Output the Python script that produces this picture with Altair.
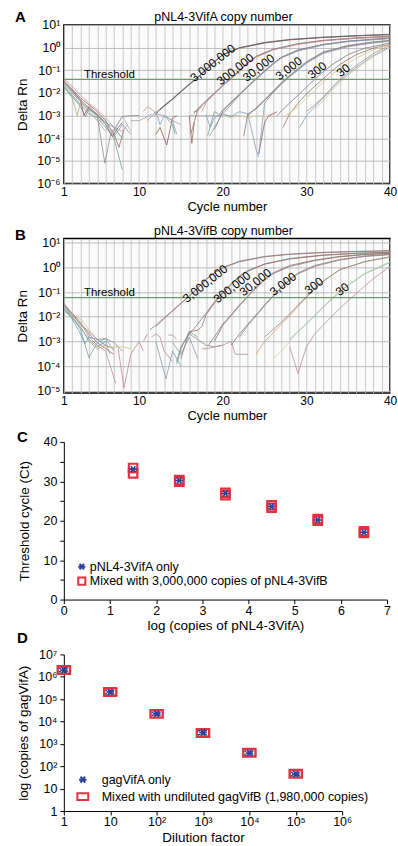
import altair as alt
import pandas as pd

FONT = "Liberation Sans"

# ---------------- Panel A: pNL4-3VifA amplification curves ----------------
A_curves = [
    # baseline (early cycles)
    ("#a36b5e", [(1, 0.035), (2, 0.015), (3, 6e-3), (4, 3e-3), (5, 1.5e-3), (6, 6e-4), (7, 1.5e-4), (7.6, 4e-5), (8.2, 2.5e-4)]),
    ("#8c8c8c", [(1, 0.03), (2, 0.012), (3, 5e-3), (4, 2.2e-3), (5, 1.0e-3), (5.9, 8e-6), (6.6, 1.5e-4), (7, 2.5e-4), (8, 9e-4), (9, 1e-3), (10, 1e-3)]),
    ("#7f9fbf", [(1, 0.025), (2, 0.01), (3, 4e-3), (4, 2e-3), (5, 1.2e-3), (6, 5e-4), (7, 1.2e-4), (8, 4e-4), (9, 1.5e-4)]),
    ("#6fa58f", [(1, 0.02), (2, 8e-3), (3, 3e-3), (4, 1.2e-3), (5, 8e-4), (6, 3e-4), (7, 1e-4), (8, 4e-6)]),
    ("#c89a9a", [(1, 0.042), (2, 0.02), (3, 8e-3), (4, 3.5e-3), (5, 1.8e-3), (6, 8e-4), (7, 3e-4), (8, 2e-4), (8.6, 4e-4)]),
    ("#b8a27a", [(1, 0.022), (2, 6e-3), (2.6, 1e-3), (3, 4e-3), (4, 1.5e-3), (5, 6e-4), (6, 2e-4)]),
    ("#5f9f9f", [(1, 0.018), (2, 7e-3), (3, 2.5e-3), (3.6, 9e-4), (4, 2e-3), (5, 1e-3), (6, 5e-4), (7, 3e-4), (8, 1e-4)]),
    ("#9a5a5a", [(1, 0.03), (2, 0.013), (3, 5e-3), (3.4, 1e-3), (4, 2.5e-3), (5, 1.1e-3), (6, 4e-4), (6.8, 1.2e-4), (7.5, 3e-4), (8, 5e-4)]),
    ("#b0b0b0", [(1, 0.028), (2, 0.011), (3, 4.5e-3), (4, 1.8e-3), (5, 9e-4), (6, 4e-4), (7, 2e-4), (8, 1e-3), (9, 2e-4)]),
    # noise (middle cycles)
    ("#a0a0a0", [(9, 6e-4), (10, 6e-4), (11, 9e-4), (11.5, 1.2e-3)]),
    ("#c89a9a", [(10.5, 1.5e-3), (11, 2.5e-3), (11.6, 1.8e-3), (12, 1.2e-3), (13, 1e-3), (14, 6e-4), (15, 4e-4)]),
    ("#7f9fbf", [(11, 6e-4), (12, 1.5e-3), (12.5, 4e-4), (13, 1e-3), (14, 6e-4), (14.5, 1.5e-4)]),
    ("#9a5a5a", [(12, 1.5e-4), (12.5, 3e-4), (13.3, 5e-5), (14, 8e-4), (14.5, 1e-3)]),
    ("#6fa58f", [(13, 1e-3), (14, 4e-4), (14.3, 1.5e-4)]),
    ("#a36b5e", [(16, 1e-3), (16.3, 6e-5), (16.6, 5e-4)]),
    ("#c89a9a", [(16.5, 1.5e-3), (17, 1.6e-3), (17.5, 2.5e-3)]),
    ("#b0b0b0", [(16, 1e-3), (17, 1e-3), (18, 1e-3), (19, 1e-3), (20, 1e-3), (21, 1e-3), (22, 1e-3)]),
    ("#7f9fbf", [(18, 1.1e-3), (18.5, 3e-4), (19, 8e-4), (20, 1.2e-3), (21, 9e-4), (22, 1.5e-3), (23, 1.2e-3), (24, 3e-5), (24.3, 1.5e-5)]),
    ("#d3d39a", [(20, 1e-3), (21, 8e-4), (22, 1e-3), (23, 8e-4), (24, 1e-3), (25, 9e-4), (26, 1e-3)]),
    ("#6fa58f", [(18.2, 1.3e-4), (19, 1.5e-3), (19.5, 1.2e-3)]),
    ("#9a5a5a", [(24.3, 2e-5), (25, 5e-4), (25.5, 1e-3), (26, 1.2e-3), (26.5, 1.5e-3)]),
    # 3,000,000
    ("#7f7f7f", [(12, 1.4e-3), (13, 2.8e-3), (14, 5.6e-3), (15, 0.012), (16, 0.025), (17, 0.05), (18, 0.11), (19, 0.25), (20, 0.5), (22, 1.0), (25, 1.7), (28, 2.3), (32, 2.9), (36, 3.4), (40, 3.8)]),
    ("#a07070", [(11.8, 1.0e-3), (13, 2.6e-3), (14, 5.2e-3), (15, 0.011), (16, 0.023), (17, 0.047), (18, 0.1), (19, 0.23), (20, 0.47), (22, 0.95), (25, 1.6), (28, 2.2), (32, 2.8), (36, 3.3), (40, 3.7)]),
    ("#5f5f5f", [(12.5, 1.8e-3), (13, 2.7e-3), (14, 5.5e-3), (15, 0.0115), (16, 0.024), (17, 0.049), (18, 0.105), (19, 0.24), (20, 0.49), (22, 0.98), (25, 1.65), (28, 2.25), (32, 2.85), (36, 3.35), (40, 3.9)]),
    # 300,000
    ("#7f7f7f", [(16.5, 1.2e-3), (17, 2.0e-3), (18, 4.5e-3), (19, 0.01), (20, 0.022), (21, 0.045), (22, 0.1), (23, 0.22), (24, 0.42), (26, 0.85), (29, 1.5), (32, 2.1), (36, 2.7), (40, 3.2)]),
    ("#a07070", [(16.2, 1.6e-4), (17, 1.8e-3), (18, 4.2e-3), (19, 0.0095), (20, 0.021), (21, 0.043), (22, 0.095), (23, 0.21), (24, 0.4), (26, 0.82), (29, 1.45), (32, 2.05), (36, 2.65), (40, 3.1)]),
    ("#c09090", [(17.5, 1.5e-3), (18, 3.8e-3), (19, 0.009), (20, 0.02), (21, 0.042), (22, 0.09), (23, 0.2), (24, 0.38), (26, 0.8), (29, 1.4), (32, 2.0), (36, 2.6), (40, 3.0)]),
    # 30,000
    ("#7f7f7f", [(19.5, 1.0e-3), (20, 1.8e-3), (21, 4.0e-3), (22, 0.009), (23, 0.02), (24, 0.045), (25, 0.095), (26, 0.2), (27, 0.38), (29, 0.8), (32, 1.4), (35, 1.95), (40, 2.7)]),
    ("#a07070", [(19, 2.5e-4), (20, 1.5e-3), (21, 3.6e-3), (22, 0.0085), (23, 0.019), (24, 0.042), (25, 0.09), (26, 0.19), (27, 0.36), (29, 0.75), (32, 1.35), (35, 1.9), (40, 2.6)]),
    ("#7fa0c0", [(18.4, 1.2e-4), (19, 3e-4), (20, 1.2e-3), (21, 3.0e-3), (22, 0.008), (23, 0.018), (24, 0.04), (25, 0.085), (26, 0.18), (27, 0.35), (29, 0.72), (32, 1.3), (35, 1.85), (40, 2.5)]),
    # 3,000
    ("#7f7f7f", [(23, 1.0e-3), (24, 2.2e-3), (25, 5e-3), (26, 0.012), (27, 0.028), (28, 0.06), (29, 0.12), (30, 0.24), (32, 0.65), (35, 1.25), (38, 1.8), (40, 2.1)]),
    ("#a07070", [(22.5, 1.2e-4), (23, 1.2e-3), (24, 2.0e-3), (25, 4.6e-3), (26, 0.011), (27, 0.026), (28, 0.056), (29, 0.11), (30, 0.22), (32, 0.6), (35, 1.2), (38, 1.7), (40, 2.0)]),
    ("#7fa0c0", [(24.3, 2e-5), (25, 3.5e-3), (26, 0.01), (27, 0.024), (28, 0.052), (29, 0.1), (30, 0.2), (32, 0.55), (35, 1.1), (38, 1.6), (40, 1.9)]),
    # 300
    ("#7f7f7f", [(26.5, 1.0e-3), (27, 1.6e-3), (28, 3.6e-3), (29, 0.008), (30, 0.018), (31, 0.04), (32, 0.085), (33, 0.17), (35, 0.5), (37, 0.95), (40, 1.6)]),
    ("#a07070", [(27.2, 3e-4), (28, 1.2e-3), (29, 3.5e-3), (30, 0.009), (31, 0.02), (32, 0.042), (33, 0.09), (34, 0.18), (36, 0.5), (38, 0.95), (40, 1.4)]),
    ("#d0d090", [(27.5, 1.0e-3), (29, 2.5e-3), (30, 6e-3), (31, 0.013), (32, 0.03), (33, 0.06), (34, 0.12), (36, 0.35), (38, 0.8), (40, 1.3)]),
    # 30
    ("#7fa0c0", [(29.2, 3e-4), (30, 1.0e-3), (31, 2.5e-3), (32, 6e-3), (33, 0.015), (34, 0.035), (35, 0.07), (36, 0.14), (38, 0.45), (40, 1.1)]),
    ("#c09090", [(30, 1.5e-3), (31, 3.0e-3), (32, 6.5e-3), (33, 0.016), (34, 0.04), (35, 0.085), (36, 0.17), (38, 0.55), (40, 1.3)]),
    ("#c8d090", [(31, 2.0e-3), (32, 4.5e-3), (33, 0.012), (34, 0.028), (35, 0.06), (36, 0.12), (38, 0.4), (40, 1.0)]),
]
A_threshold = 0.04
A_labels = [("Threshold", 3.4, 0.062, 0), ("3,000,000", 18.8, 0.21, 322), ("300,000", 21.5, 0.11, 322),
            ("30,000", 24.3, 0.13, 322), ("3,000", 27.9, 0.12, 322), ("300", 31.3, 0.10, 322), ("30", 34.4, 0.10, 322)]

# ---------------- Panel B: pNL4-3VifB amplification curves ----------------
B_curves = [
    ("#a36b5e", [(1, 0.03), (2, 0.012), (3, 5e-3), (4, 2e-3), (5, 9e-4), (6, 5e-4), (7, 3e-4)]),
    ("#7f9fbf", [(1, 0.028), (2, 0.01), (3, 3e-3), (4, 2.2e-4), (5, 9e-4), (6, 1.3e-3), (7, 4e-4)]),
    ("#d3c08a", [(1, 0.016), (2, 0.012), (3, 8e-3), (4, 3e-3), (5, 1.2e-3), (6, 6e-4), (7, 6e-4), (8, 6e-4), (9, 5e-4)]),
    ("#c08a9a", [(1, 0.035), (2, 0.014), (3, 6e-3), (4, 1.5e-3), (5, 7e-4), (6, 4e-4), (7.2, 2e-5)]),
    ("#8c8c8c", [(1, 0.032), (2, 0.013), (3, 5e-3), (4, 2.5e-3), (5, 1.2e-3), (6, 1.3e-3), (7, 9e-4), (8, 4e-4)]),
    ("#6fa58f", [(1, 0.022), (2, 9e-3), (3, 3.5e-3), (4, 1.2e-3), (5, 6e-4), (6, 1e-3), (6.5, 3e-4)]),
    ("#b8a27a", [(1, 0.025), (2, 0.01), (3, 4e-3), (4, 1e-3), (5, 5e-4), (6, 7e-4), (7, 5e-4)]),
    ("#5f9fbf", [(1, 0.02), (2, 8e-3), (3, 2e-3), (3.5, 8e-4), (4, 1.5e-3), (5, 1.2e-3), (6, 7e-4)]),
    ("#c08a9a", [(7.5, 5e-4), (8.2, 1.3e-5), (9, 3e-4), (10, 1e-3), (10.5, 4e-4)]),
    ("#c08a9a", [(10.5, 1e-3), (11, 2e-3)]),
    ("#c08a9a", [(11.5, 1.5e-3), (12, 2e-3), (12.5, 1.5e-3), (13, 4e-4), (14, 1.5e-4)]),
    ("#7f9fbf", [(12, 1e-3), (13.2, 3e-5), (14, 4e-4), (15, 1e-4)]),
    ("#7f9fbf", [(14, 9e-4), (15, 3e-4), (16, 1.5e-3), (17, 2e-4)]),
    ("#c08a9a", [(13.5, 1.8e-3), (14, 1.8e-3), (14.5, 1.2e-3)]),
    ("#8c8c8c", [(16, 2e-3), (17, 1.2e-3), (18, 7e-4), (19, 6e-4), (20, 7e-4)]),
    ("#c08a9a", [(17.5, 5e-4), (18, 5e-4), (19, 6e-4), (20, 7e-4), (21, 1e-3), (21.5, 3e-4), (22, 3e-4), (23, 3e-4)]),
    ("#6fa58f", [(14.5, 1.2e-4), (15, 5e-4), (16, 2.5e-3), (17, 1.5e-3)]),
    # 3,000,000
    ("#8a8a8a", [(11.3, 3e-3), (12, 4.5e-3), (13, 9e-3), (14, 0.018), (15, 0.036), (16, 0.07), (17, 0.15), (18, 0.33), (19, 0.62), (20, 1.0), (22, 1.8), (25, 2.8), (28, 3.5), (32, 4.1), (36, 4.5), (40, 4.8)]),
    ("#a07070", [(12, 4e-3), (13, 8.5e-3), (14, 0.017), (15, 0.034), (16, 0.068), (17, 0.145), (18, 0.32), (19, 0.6), (20, 0.95), (22, 1.7), (25, 2.7), (28, 3.4), (32, 4.0), (36, 4.4), (40, 4.7)]),
    # 300,000
    ("#7f7f7f", [(14.5, 1.5e-4), (15, 6e-4), (16, 2e-3), (17, 5e-3), (18, 0.014), (19, 0.04), (20, 0.1), (21, 0.22), (22, 0.45), (23, 0.75), (25, 1.4), (28, 2.3), (32, 3.2), (36, 3.8), (40, 4.2)]),
    ("#a07070", [(15, 2e-4), (16, 2.5e-3), (17, 2.8e-3), (17.5, 4e-3), (18, 0.012), (19, 0.035), (20, 0.09), (21, 0.2), (22, 0.42), (23, 0.7), (25, 1.35), (28, 2.2), (32, 3.1), (36, 3.7), (40, 4.1)]),
    # 30,000
    ("#7f7f7f", [(18.3, 7e-4), (19, 1.5e-3), (20, 5e-3), (21, 0.012), (22, 0.03), (23, 0.07), (24, 0.16), (25, 0.33), (26, 0.6), (28, 1.2), (31, 2.0), (34, 2.8), (37, 3.4), (40, 3.8)]),
    ("#a07070", [(19, 1e-3), (20, 4.5e-3), (21, 0.011), (22, 0.028), (23, 0.065), (24, 0.15), (25, 0.3), (26, 0.55), (28, 1.1), (31, 1.9), (34, 2.7), (37, 3.3), (40, 3.7)]),
    # 3,000
    ("#7f7f7f", [(21, 7e-4), (22, 2e-3), (23, 5e-3), (24, 0.012), (25, 0.03), (26, 0.07), (27, 0.16), (28, 0.33), (29, 0.6), (31, 1.2), (34, 2.1), (37, 2.9), (40, 3.4)]),
    ("#a08080", [(22, 1.5e-3), (23, 4.5e-3), (24, 0.011), (25, 0.028), (26, 0.065), (27, 0.15), (28, 0.3), (29, 0.55), (31, 1.1), (34, 2.0), (37, 2.8), (40, 3.3)]),
    # 300
    ("#d0a070", [(24, 3e-4), (25, 1e-3), (26, 2.2e-3), (27, 5e-3), (28, 0.011), (29, 0.026), (30, 0.06), (31, 0.13), (32, 0.27), (34, 0.8), (37, 1.7), (40, 2.6)]),
    ("#8a8a8a", [(25, 1.5e-3), (26, 3e-3), (27, 6e-3), (28, 0.013), (29, 0.03), (30, 0.065), (31, 0.14), (32, 0.28), (34, 0.82), (37, 1.75), (40, 2.7)]),
    # 30
    ("#7fb0d0", [(28, 1.2e-3), (29, 2.5e-3), (30, 5e-3), (31, 0.011), (32, 0.024), (33, 0.05), (34, 0.1), (35, 0.19), (37, 0.55), (40, 1.6)]),
    ("#c8d890", [(26, 2e-4), (27, 4e-4), (28, 1e-3), (29, 2.5e-3), (30, 5.5e-3), (31, 0.012), (32, 0.026), (33, 0.055), (34, 0.11), (35, 0.2), (37, 0.6), (40, 1.7)]),
    ("#c08aa0", [(28, 6e-4), (29, 5e-5), (30, 6e-4), (31, 2e-3), (32, 4.5e-3), (33, 0.01), (34, 0.022), (35, 0.045), (36, 0.09), (38, 0.35), (40, 1.1)]),
]
B_threshold = 0.06
B_labels = [("Threshold", 3.4, 0.092, 0), ("3,000,000", 17.9, 0.22, 322), ("300,000", 21.1, 0.155, 322),
            ("30,000", 23.9, 0.25, 322), ("3,000", 27.2, 0.21, 322), ("300", 30.9, 0.18, 322), ("30", 34.3, 0.13, 322)]

# ---------------- Panel C ----------------
C_logcopies = [1.5, 2.5, 3.5, 4.5, 5.5, 6.5]
C_ct_only = [33.1, 30.2, 26.9, 23.6, 20.2, 17.1]
C_ct_only_sd = [0.2, 0.15, 0.2, 0.15, 0.15, 0.15]
C_ct_mixed = [32.7, 30.1, 26.8, 23.6, 20.2, 17.1]
C_ct_mixed_sd = [0.7, 0.2, 0.3, 0.3, 0.2, 0.2]
C_legend = ["pNL4-3VifA only", "Mixed with 3,000,000 copies of pNL4-3VifB"]

# ---------------- Panel D ----------------
D_dilution = [1, 10, 100, 1000, 10000, 100000]
D_only = [2.0e6, 2.1e5, 2.2e4, 3.2e3, 390, 45]
D_only_lo = [1.7e6, 1.75e5, 1.9e4, 2.6e3, 320, 38]
D_only_hi = [2.4e6, 2.5e5, 2.6e4, 3.9e3, 470, 53]
D_mixed = [2.0e6, 2.1e5, 2.2e4, 3.1e3, 400, 46]
D_legend = ["gagVifA only", "Mixed with undiluted gagVifB (1,980,000 copies)"]

BLUE = "#2e3f9c"
RED = "#e2323f"
AST = "M-1,0L1,0M-0.6,-0.8L0.6,0.8M-0.6,0.8L0.6,-0.8"
RECT = "M-1,-0.62L1,-0.62L1,0.62L-1,0.62Z"
HBAR = "M-1,0L1,0"
SUP = "['\u207b\u2076','\u207b\u2075','\u207b\u2074','\u207b\u00b3','\u207b\u00b2','\u207b\u00b9','\u2070','\u00b9','\u00b2','\u00b3','\u2074','\u2075','\u2076','\u2077']"
SUP_EXPR = "'10' + " + SUP + "[round(log(datum.value)/LN10) + 6]"
LOG_LABEL = "datum.value == 1 ? '1' : (datum.value == 10 ? '10' : " + SUP_EXPR + ")"


def one():
    return pd.DataFrame({"k": [0]})


def text_mark(txt, dx, dy, size=15, weight="bold", align="left"):
    return alt.Chart(one()).mark_text(font=FONT, fontSize=size, fontWeight=weight, align=align,
                                      baseline="middle", color="black").encode(
        x=alt.value(dx), y=alt.value(dy), text=alt.value(txt))


def amp_panel(curves, thr, labels, ydom, yvals, title, title_dy, letter, letter_dy, h, lab_pad):
    rows = []
    for i, (col, pts) in enumerate(curves):
        for c, v in pts:
            rows.append({"seg": i, "color": col, "cycle": c, "value": v})
    df = pd.DataFrame(rows)
    xs = alt.Scale(domain=[1, 40], nice=False, zero=False)
    ys = alt.Scale(type="log", domain=ydom, nice=False)
    xaxis = alt.Axis(values=list(range(1, 41)), tickCount=200, format="d",
                     labelExpr="(datum.value == 1 || datum.value % 10 == 0) ? datum.label : ''",
                     ticks=False, tickSize=0, domain=False, grid=True, gridColor="#c4c4c4", gridWidth=0.9,
                     labelOverlap=False, labelFlush=False, labelFontSize=12, labelPadding=lab_pad,
                     title="Cycle number", titleFontSize=13, titleFontWeight="normal",
                     titleY=22.5, titleBaseline="middle")
    yaxis = alt.Axis(values=yvals, tickCount=200, labelExpr=SUP_EXPR, ticks=False, tickSize=0, domain=False,
                     grid=True, gridColor="#b4b4b4", gridWidth=0.9, labelOverlap=False, labelFlush=False,
                     labelFontSize=12.5, labelPadding=4, title="Delta Rn", titleFontSize=13.5,
                     titleFontWeight="normal", titleX=-41, titleY=h / 2, titleBaseline="middle")
    lines = alt.Chart(df).mark_line(strokeWidth=0.9, opacity=0.9, clip=True).encode(
        x=alt.X("cycle:Q", scale=xs, axis=xaxis),
        y=alt.Y("value:Q", scale=ys, axis=yaxis),
        color=alt.Color("color:N", scale=None),
        detail="seg:N",
    )
    rule = alt.Chart(pd.DataFrame({"value": [thr]})).mark_rule(color="#6c9a6c", strokeWidth=1.3).encode(
        y="value:Q")
    ldf = pd.DataFrame(labels, columns=["text", "cycle", "value", "angle"])
    thr_txt = alt.Chart(ldf[ldf.angle == 0]).mark_text(font=FONT, fontSize=11.5, align="left",
                                                        baseline="middle").encode(
        x="cycle:Q", y="value:Q", text="text:N")
    cp_txt = alt.Chart(ldf[ldf.angle != 0]).mark_text(font=FONT, fontSize=12, align="center",
                                                       baseline="middle", angle=322).encode(
        x="cycle:Q", y="value:Q", text="text:N")
    return alt.layer(lines, rule, thr_txt, cp_txt,
                     text_mark(letter, -49, letter_dy),
                     text_mark(title, 160, title_dy, size=12.5, weight="normal", align="center"),
                     ).properties(
        width=327, height=h,
        view=alt.ViewBackground(fill="#fbfbfb", stroke="black", strokeWidth=1.5),
    )


def legend_rows(labels, shapes, colors, sizes, sx, tx, ys):
    layers = []
    for lab, shp, col, sz, y in zip(labels, shapes, colors, sizes, ys):
        layers.append(alt.Chart(one()).mark_point(shape=shp, size=sz, color=col, strokeWidth=2,
                                                  filled=False, opacity=1).encode(
            x=alt.value(sx), y=alt.value(y)))
        layers.append(alt.Chart(one()).mark_text(font=FONT, fontSize=12.5, align="left",
                                                 baseline="middle").encode(
            x=alt.value(tx), y=alt.value(y), text=alt.value(lab)))
    return layers


axis_style = dict(domainColor="black", domainWidth=1, tickColor="black", tickSize=4, tickWidth=1,
                  labelFontSize=12.5, titleFontSize=13.5, titleFontWeight="normal", grid=False,
                  labelFlush=False, labelOverlap=False, tickCount=200)

# ----- C chart -----
cdf = pd.DataFrame({
    "x": C_logcopies,
    "only": C_ct_only,
    "only_lo": [a - b for a, b in zip(C_ct_only, C_ct_only_sd)],
    "only_hi": [a + b for a, b in zip(C_ct_only, C_ct_only_sd)],
    "mixed": C_ct_mixed,
    "mixed_lo": [a - b for a, b in zip(C_ct_mixed, C_ct_mixed_sd)],
    "mixed_hi": [a + b for a, b in zip(C_ct_mixed, C_ct_mixed_sd)],
})
hC = 158
cx = alt.X("x:Q", scale=alt.Scale(domain=[0, 7], nice=False),
           axis=alt.Axis(values=list(range(0, 8)), format="d", labelPadding=1,
                         title="log (copies of pNL4-3VifA)", titleY=26, titleBaseline="middle", **axis_style))
cy_axis = alt.Axis(values=list(range(0, 45, 5)), format="d",
                   labelExpr="datum.value % 10 == 0 ? datum.label : ''",
                   labelPadding=3, title="Threshold cycle (Ct)", titleX=-39, titleY=hC / 2,
                   titleBaseline="middle", **axis_style)
c_red_bar = alt.Chart(cdf).mark_rule(color=RED, strokeWidth=2).encode(
    x=cx, y=alt.Y("mixed_lo:Q", scale=alt.Scale(domain=[0, 40], nice=False), axis=cy_axis), y2="mixed_hi:Q")
c_red = alt.Chart(cdf).mark_point(shape="square", size=72, color=RED, strokeWidth=2.2, filled=False,
                                  opacity=1).encode(x="x:Q", y="mixed_lo:Q")
c_red2 = alt.Chart(cdf).mark_point(shape="square", size=72, color=RED, strokeWidth=2.2, filled=False,
                                   opacity=1).encode(x="x:Q", y="mixed_hi:Q")
c_blue = alt.Chart(cdf).mark_point(shape=AST, size=56, color=BLUE, strokeWidth=1.6, filled=False,
                                   opacity=1).encode(x="x:Q", y=alt.Y("only:Q"))
C_chart = alt.layer(
    c_red_bar, c_red, c_red2, c_blue,
    *legend_rows(C_legend, [AST, "square"], [BLUE, RED], [50, 50], 18, 26, [125, 139.5]),
    text_mark("C", -47, -5),
).properties(width=324, height=hC)

# ----- D chart -----
ddf = pd.DataFrame({"dil": D_dilution, "only": D_only, "only_lo": D_only_lo, "only_hi": D_only_hi,
                    "mixed": D_mixed})
hD = 157
dx = alt.X("dil:Q", scale=alt.Scale(type="log", domain=[1, 1e6], nice=False),
           axis=alt.Axis(values=[1, 10, 100, 1000, 1e4, 1e5, 1e6], labelExpr=LOG_LABEL,
                         labelPadding=1, title="Dilution factor", titleY=27, titleBaseline="middle",
                         **axis_style))
dy_axis = alt.Axis(values=[1, 10, 100, 1000, 1e4, 1e5, 1e6, 1e7], labelExpr=LOG_LABEL,
                   labelPadding=3, title="log (copies of gagVifA)", titleX=-40, titleY=hD / 2,
                   titleBaseline="middle", **axis_style)
d_red = alt.Chart(ddf).mark_point(shape=RECT, size=150, color=RED, strokeWidth=2.4, filled=False,
                                  opacity=1).encode(
    x=dx, y=alt.Y("mixed:Q", scale=alt.Scale(type="log", domain=[1, 1e7], nice=False), axis=dy_axis))
d_hi = alt.Chart(ddf).mark_point(shape=HBAR, size=100, color=BLUE, strokeWidth=1.5, strokeDash=[2, 1.5],
                                 opacity=1).encode(x="dil:Q", y="only_hi:Q")
d_lo = alt.Chart(ddf).mark_point(shape=HBAR, size=100, color=BLUE, strokeWidth=1.5, strokeDash=[2, 1.5],
                                 opacity=1).encode(x="dil:Q", y="only_lo:Q")
d_blue = alt.Chart(ddf).mark_point(shape=AST, size=56, color=BLUE, strokeWidth=1.8, filled=False,
                                   opacity=1).encode(x="dil:Q", y="only:Q")
D_chart = alt.layer(
    d_red, d_hi, d_lo, d_blue,
    *legend_rows(D_legend, [AST, RECT], [BLUE, RED], [56, 120], 19, 38, [125.6, 142.6]),
    text_mark("D", -47, -16),
).properties(width=279, height=hD)

A_chart = amp_panel(A_curves, A_threshold, A_labels, [1e-6, 10],
                    [1e-6, 1e-5, 1e-4, 1e-3, 1e-2, 1e-1, 1, 10],
                    "pNL4-3VifA copy number", -8, "A", -8, 159, 3)
B_chart = amp_panel(B_curves, B_threshold, B_labels, [8e-6, 15],
                    [1e-5, 1e-4, 1e-3, 1e-2, 1e-1, 1, 10],
                    "pNL4-3VifB copy number", -7, "B", -3, 155, 2)

top = alt.vconcat(A_chart, B_chart, spacing=10)
bottom = alt.vconcat(C_chart, D_chart, spacing=-2)
chart = alt.vconcat(top, bottom, spacing=5).properties(
    padding={"left": 14, "top": 8, "right": 0, "bottom": 0}
).configure(font=FONT).configure_view(stroke="transparent").configure_axis(
    labelFont=FONT, titleFont=FONT, labelColor="black", titleColor="black"
).configure_title(font=FONT, color="black")

chart.save("out.html", embed_options={"renderer": "svg", "actions": False})
